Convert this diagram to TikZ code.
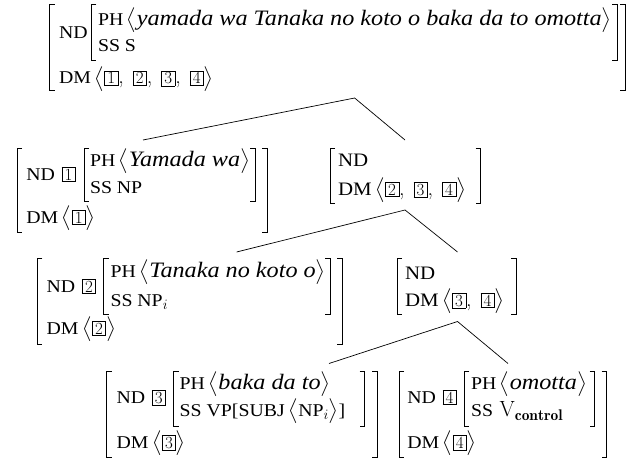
\documentclass[tikz,border=0pt]{standalone}
\usepackage{amsmath}
\usepackage{fontspec}
\newfontfamily\tms[FakeStretch=1.1]{Liberation Serif}
\newcommand\lab[1]{{\fontsize{18}{22}\selectfont\tms #1}}
\newcommand\itx[1]{{\fontsize{22}{26}\selectfont\tms\itshape #1}}
\newcommand\lmlab[1]{{\fontsize{19}{22}\selectfont\tms #1}}
\newcommand\la{\ensuremath{\bigl\langle}}
\newcommand\ra{\ensuremath{\bigr\rangle}}
\newcommand\cm{,\hskip 9pt}
\newcommand\tg[1]{{\setlength\fboxsep{1.3pt}\setlength\fboxrule{0.6pt}\fbox{\fontsize{17}{17}\selectfont\hspace{1.2pt}#1\hspace{1.2pt}}}}
\newcommand\Lbr[3]{\draw[brk] (#1+5,#2) -- (#1,#2) -- (#1,#3) -- (#1+5,#3);}
\newcommand\Rbr[3]{\draw[brk] (#1-5,#2) -- (#1,#2) -- (#1,#3) -- (#1-5,#3);}
\begin{document}
\begin{tikzpicture}[x=1pt,y=-1pt,
  txt/.style={anchor=base west, inner sep=0pt, outer sep=0pt, font=\fontsize{22}{26}\selectfont},
  brk/.style={line width=1pt},
  tree/.style={line width=0.7pt}]
\useasboundingbox (0,0) rectangle (629,460);

% ---------- root ----------
\Lbr{49.5}{5}{90.7}
\node[txt] (r-nd) at (59,38.6) {\lab{ND}};
\Lbr{91.4}{5}{60.4}
\node[txt] (r-ph) at (98,25.5) {\lab{PH}\,\la\itx{yamada wa Tanaka no koto o baka da to omotta}\ra};
\node[txt] (r-ss) at (98,52) {\lab{SS S}};
\Rbr{617}{5}{60.4}
\node[txt] (r-dm) at (59,84) {\lab{DM}\,\la\tg{1}\cm\tg{2}\cm\tg{3}\cm\tg{4}\ra};
\Rbr{625}{5}{90.7}

% ---------- child 1 ----------
\Lbr{17}{148}{232}
\node[txt] (a-nd) at (26.4,180) {\lab{ND}~\tg{1}};
\Lbr{84}{148}{201.6}
\node[txt] (a-ph) at (90,166) {\lab{PH}\,\la\itx{Yamada wa}\ra};
\node[txt] (a-ss) at (90,193) {\lab{SS NP}};
\Rbr{255}{148}{201.6}
\node[txt] (a-dm) at (26.4,223) {\lab{DM}\,\la\tg{1}\ra};
\Rbr{267}{148}{232}

% ---------- node B ----------
\Lbr{330}{148}{203}
\node[txt] (b-nd) at (338,166) {\lmlab{ND}};
\node[txt] (b-dm) at (338,195) {\lmlab{DM}\,\la\tg{2}\cm\tg{3}\cm\tg{4}\ra};
\Rbr{480.6}{148}{203}

% ---------- child 2 ----------
\Lbr{37.3}{258.7}{344}
\node[txt] (c-nd) at (46.7,292) {\lab{ND}~\tg{2}};
\Lbr{103.6}{258.7}{314}
\node[txt] (c-ph) at (110.5,277) {\lab{PH}\,\la\itx{Tanaka no koto o}\ra};
\node[txt] (c-ss) at (110.5,306) {\lab{SS NP}$_i$};
\Rbr{330}{258.7}{314}
\node[txt] (c-dm) at (46.7,334) {\lab{DM}\,\la\tg{2}\ra};
\Rbr{342}{258.7}{344}

% ---------- node D ----------
\Lbr{397}{258.7}{314}
\node[txt] (d-nd) at (405,279) {\lmlab{ND}};
\node[txt] (d-dm) at (405,306) {\lmlab{DM}\,\la\tg{3}\cm\tg{4}\ra};
\Rbr{516}{258.7}{314}

% ---------- child 3 ----------
\Lbr{106.5}{371}{457}
\node[txt] (e-nd) at (116.6,403) {\lab{ND}~\tg{3}};
\Lbr{173.6}{371}{426.7}
\node[txt] (e-ph) at (179.7,389.7) {\lab{PH}\,\la\itx{baka da to}\ra};
\node[txt] (e-ss) at (179.7,416.6) {\lab{SS VP[SUBJ}\,\la\lab{NP}$_i$\ra\lab{]}};
\Rbr{364.7}{371}{426.7}
\node[txt] (e-dm) at (116.6,448.5) {\lab{DM}\,\la\tg{3}\ra};
\Rbr{377}{371}{457}

% ---------- child 4 ----------
\Lbr{399}{371}{457}
\node[txt] (f-nd) at (407.4,403) {\lab{ND}~\tg{4}};
\Lbr{464.4}{371}{426.7}
\node[txt] (f-ph) at (471,389.7) {\lab{PH}\,\la\itx{omotta}\ra};
\node[txt] (f-ss) at (471,416.6) {\lab{SS}~$\mathrm{V}_{\mathbf{control}}$};
\Rbr{594.5}{371}{426.7}
\node[txt] (f-dm) at (407.4,448.5) {\lab{DM}\,\la\tg{4}\ra};
\Rbr{606.7}{371}{457}

% ---------- tree lines ----------
\coordinate (ap1) at (354.6,98);
\coordinate (a-top) at (143,140);
\coordinate (b-top) at (405,140);
\coordinate (ap2) at (405,210);
\coordinate (c-top) at (236.6,252);
\coordinate (d-top) at (457.5,252);
\coordinate (ap3) at (457.5,321.5);
\coordinate (e-top) at (329,363.5);
\coordinate (f-top) at (508,363.5);
\draw[tree] (a-top) -- (ap1) -- (b-top);
\draw[tree] (c-top) -- (ap2) -- (d-top);
\draw[tree] (e-top) -- (ap3) -- (f-top);
\end{tikzpicture}
\end{document}
